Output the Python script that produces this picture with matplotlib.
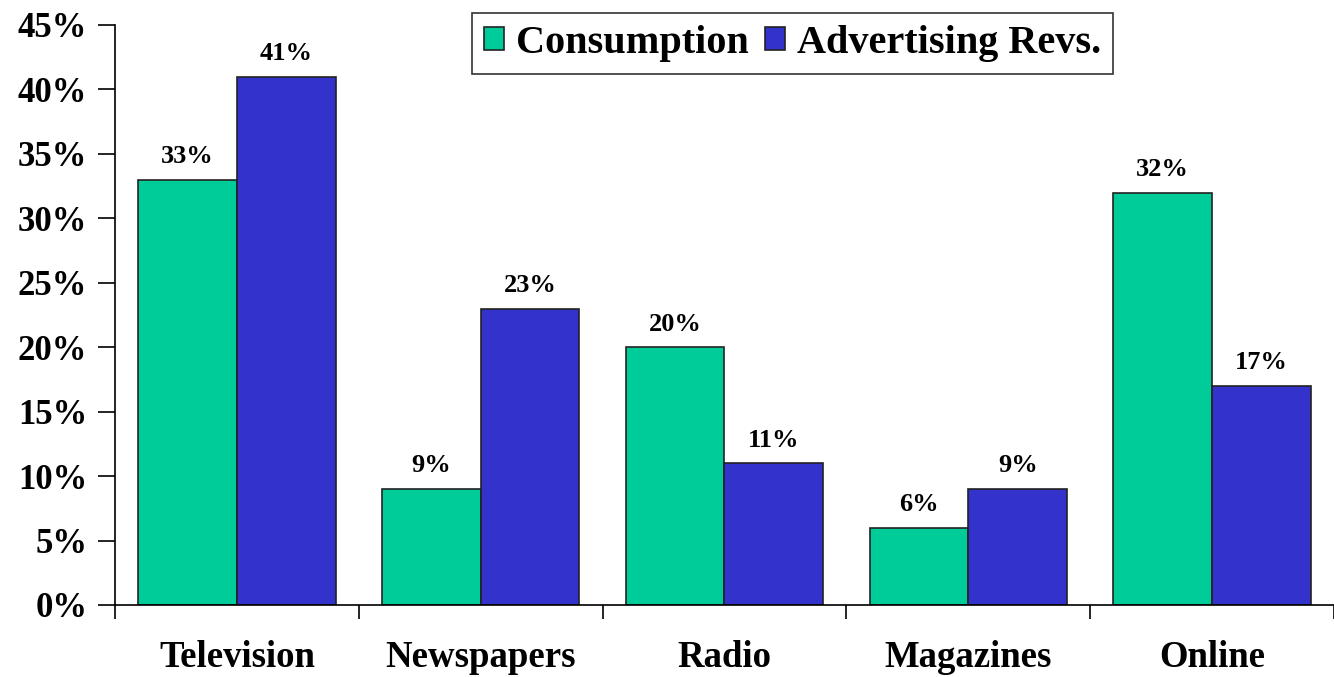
import numpy as np
import matplotlib.pyplot as plt

# share of media consumption vs. advertising revenue, in percent
media = ["Television", "Newspapers", "Radio", "Magazines", "Online"]
consumption = [33, 9, 20, 6, 32]
ad_revs = [41, 23, 11, 9, 17]

plt.rcParams['font.family'] = ['Liberation Serif', 'DejaVu Serif']
plt.rcParams['font.weight'] = 'bold'

fig = plt.figure(figsize=(13.34, 6.77), dpi=100)
ax = fig.add_axes([0.0862, 0.1064, 0.9138, 0.8567])

x = np.arange(len(media))
w = 0.405
b1 = ax.bar(x - w / 2, consumption, w, color="#00CC99", edgecolor="#222222", linewidth=1.2, label="Consumption")
b2 = ax.bar(x + w / 2, ad_revs, w, color="#3333CC", edgecolor="#222222", linewidth=1.2, label="Advertising Revs.")

for bars, vals in ((b1, consumption), (b2, ad_revs)):
    for r, v in zip(bars, vals):
        ax.text(r.get_x() + r.get_width() / 2, v + 0.9, "%d%%" % v,
                ha="center", va="bottom", fontsize=19, fontweight="bold")

ax.set_xlim(-0.5, len(media) - 0.5)
ax.set_ylim(0, 45)
ax.set_yticks(range(0, 46, 5))
ax.set_yticklabels(["%d%%" % t for t in range(0, 46, 5)], fontsize=25, fontweight="bold")

# category labels centred, ticks on the group boundaries
ax.set_xticks(np.arange(-0.5, len(media)), minor=False)
ax.set_xticklabels([])
ax.set_xticks(x, minor=True)
ax.set_xticklabels(media, minor=True, fontsize=26.5, fontweight="bold")
ax.tick_params(axis="x", which="major", direction="out", length=10, width=1.2)
ax.tick_params(axis="x", which="minor", length=0, pad=25)
ax.tick_params(axis="y", direction="out", length=12, width=1.2, pad=8)

for s in ("top", "right"):
    ax.spines[s].set_visible(False)
ax.spines["left"].set_linewidth(1.2)
ax.spines["bottom"].set_linewidth(1.2)

leg = ax.legend(loc="upper center", bbox_to_anchor=(0.594, 0.981), bbox_transform=fig.transFigure,
                ncol=2, fontsize=29, frameon=True, fancybox=False, edgecolor="black",
                handlelength=0.5, handleheight=0.5, handletextpad=0.3, columnspacing=0.4,
                borderpad=0.3, borderaxespad=0)
leg.get_frame().set_linewidth(1.2)
for t in leg.get_texts():
    t.set_fontweight("bold")

fig.savefig("out.png", dpi=100)
